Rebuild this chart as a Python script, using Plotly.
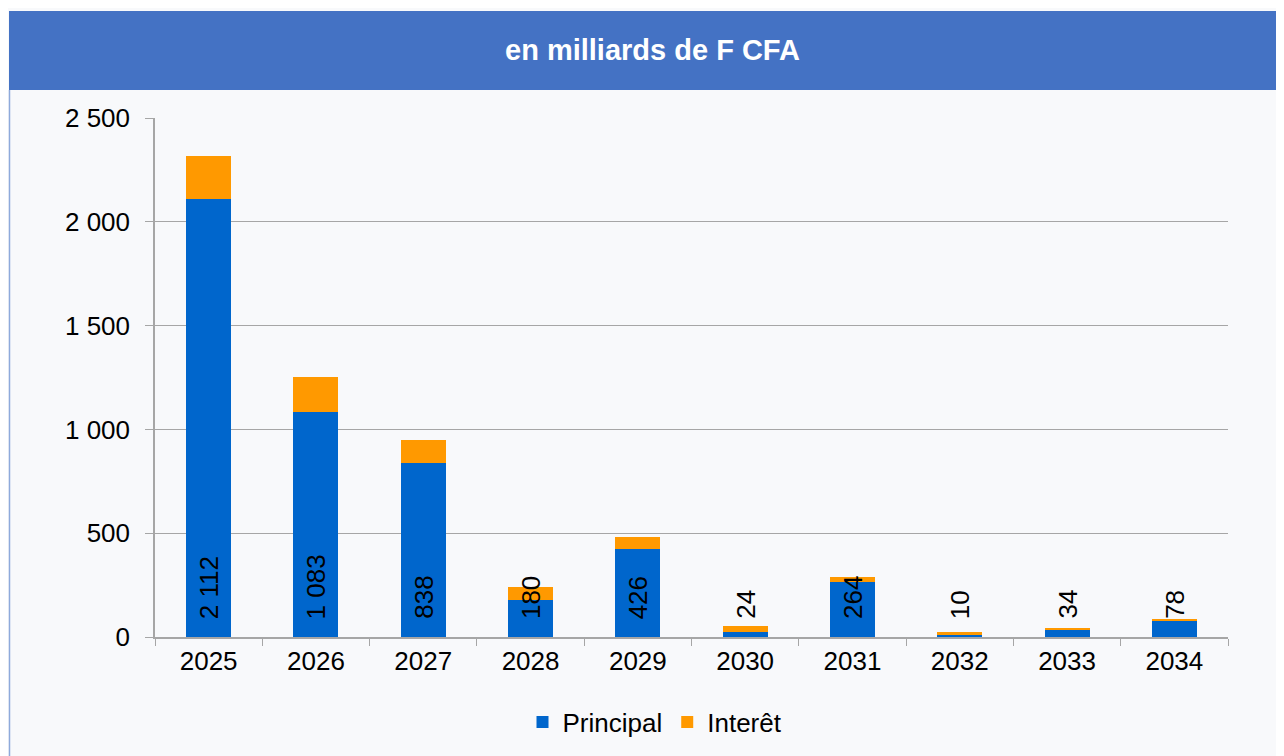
import plotly.graph_objects as go

years = ["2025", "2026", "2027", "2028", "2029", "2030", "2031", "2032", "2033", "2034"]
principal = [2112, 1083, 838, 180, 426, 24, 264, 10, 34, 78]
interet = [205, 169, 111, 62, 54, 29, 25, 13, 11, 10]
y_tickvals = [0, 500, 1000, 1500, 2000, 2500]
y_ticktext = ["0", "500", "1 000", "1 500", "2 000", "2 500"]
title_text = "en milliards de F CFA"

FONT = "Liberation Sans, Arial, sans-serif"

# page offset (body margin) of 8px is subtracted from reference pixel coordinates
OFF = 8
L, R, T, B = 155 - OFF, 1228 - OFF, 118 - OFF, 637 - OFF
W, H = 1284, 756
def px(p):
    return (p - OFF - L) / (R - L)
def py(q):
    return (B - (q - OFF)) / (B - T)

def fmt(v):
    return f"{v:,}".replace(",", " ")

fig = go.Figure()
fig.add_trace(go.Bar(x=years, y=principal, name="Principal", marker_color="#0066CC",
                     marker_line_width=0, width=0.42))
fig.add_trace(go.Bar(x=years, y=interet, name="Interêt", marker_color="#FF9900",
                     marker_line_width=0, width=0.42))

annotations = []
for i, v in enumerate(principal):
    annotations.append(dict(x=i, y=0, xref="x", yref="y", text=fmt(v), showarrow=False,
                            textangle=-90, yanchor="bottom", xanchor="center", yshift=16,
                            font=dict(family=FONT, size=26, color="#000000")))
annotations.append(dict(x=px(652), y=py(50), xref="paper", yref="paper", text="<b>" + title_text + "</b>",
                        showarrow=False, xanchor="center", yanchor="middle",
                        font=dict(family=FONT, size=29, color="#FFFFFF")))

shapes = [
    dict(type="rect", xref="paper", yref="paper", x0=px(9), x1=px(1300), y0=py(90), y1=py(11),
         fillcolor="#4472C4", line_width=0, layer="below"),
    dict(type="line", xref="paper", yref="paper", x0=px(9.5), x1=px(9.5), y0=py(90), y1=py(770),
         line=dict(color="#8EAADB", width=1.5)),
]

fig.update_layout(
    width=W, height=H,
    margin=dict(l=L, r=W - R, t=T, b=H - B),
    barmode="stack",
    paper_bgcolor="#F8F9FB",
    plot_bgcolor="rgba(0,0,0,0)",
    font=dict(family=FONT, size=26, color="#000000"),
    showlegend=True,
    legend=dict(orientation="h", x=px(655), y=py(722), xanchor="center", yanchor="middle",
                font=dict(family=FONT, size=26), bgcolor="rgba(0,0,0,0)",
                traceorder="normal"),
    annotations=annotations,
    shapes=shapes,
)
fig.update_xaxes(type="category", categoryorder="array", categoryarray=years,
                 range=[-0.5, len(years) - 0.5], autorange=False,
                 tickson="boundaries", ticks="outside", ticklen=7, tickangle=0,
                 tickcolor="#A6A6A6", showline=True, linecolor="#A6A6A6", linewidth=1.5,
                 showgrid=False, tickfont=dict(family=FONT, size=26))
fig.update_yaxes(range=[0, 2500], autorange=False, tickvals=y_tickvals, ticktext=y_ticktext, ticks="outside",
                 ticklen=8, tickcolor="#A6A6A6", showline=True, linecolor="#A6A6A6", linewidth=1.5,
                 gridcolor="#A6A6A6", gridwidth=1, zeroline=False, ticklabelstandoff=10,
                 tickfont=dict(family=FONT, size=26))

fig.write_html("out.html")
